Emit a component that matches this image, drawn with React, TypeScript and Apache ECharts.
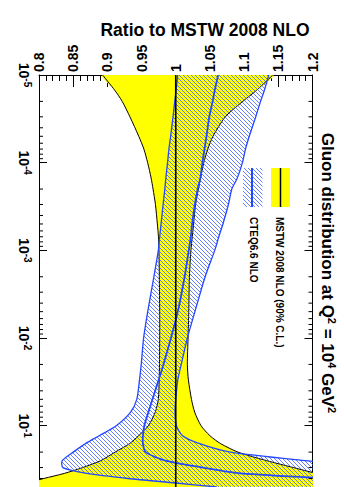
import React, { useEffect, useRef } from 'react';
import * as echarts from 'echarts';

// x values (momentum fraction) at which curves were read
const xGrid = [1e-5, 1.5e-5, 2e-5, 3e-5, 5e-5, 7e-5, 1e-4, 1.5e-4, 2e-4, 3e-4, 5e-4, 7e-4, 1e-3, 2e-3, 5e-3,
  1e-2, 2e-2, 3e-2, 5e-2, 7e-2, 0.1, 0.13, 0.16, 0.2, 0.25, 0.3, 0.35, 0.4, 0.45, 0.5];

// MSTW 2008 NLO 90% C.L. band (ratio to central)
const mstwLower = [0.893, 0.911, 0.9217, 0.933, 0.9459, 0.9534, 0.9589, 0.964, 0.9668, 0.9703, 0.9731, 0.9747, 0.9754, 0.976, 0.9765,
  0.9765, 0.9762, 0.9758, 0.9745, 0.970, 0.960, 0.9457, 0.9325, 0.9113, 0.8905, 0.864, 0.837, 0.807, 0.781, 0.757];
const mstwUpper = [1.142, 1.118, 1.098, 1.0725, 1.0545, 1.0469, 1.041, 1.0363, 1.0332, 1.029, 1.0261, 1.0242, 1.0222, 1.020, 1.019,
  1.018, 1.017, 1.0185, 1.023, 1.0277, 1.037, 1.050, 1.0656, 1.091, 1.1327, 1.1721, 1.205, 1.235, 1.26, 1.285];
const mstwCentral = [1, 1];
const mstwCentralX = [1e-5, 0.5];

// CTEQ6.6 NLO
const cteqCentral = [1.062, 1.057, 1.054, 1.049, 1.045, 1.042, 1.039, 1.036, 1.032, 1.028, 1.024, 1.022, 1.019, 1.013, 1.003,
  0.993, 0.982, 0.975, 0.966, 0.960, 0.954, 0.952, 0.952, 0.956, 0.985, 1.04, 1.095, 1.23, 1.4, 1.55];
const cteqUpper = [1.136, 1.1295, 1.124, 1.117, 1.1075, 1.102, 1.0975, 1.090, 1.082, 1.077, 1.069, 1.063, 1.057, 1.043, 1.028,
  1.017, 1.008, 1.003, 1.000, 0.999, 1.001, 1.01, 1.035, 1.08, 1.19, 1.30, 1.4, 1.5, 1.6, 1.7];
const cteqLower = [1.003, 1.0005, 0.9985, 0.996, 0.9925, 0.990, 0.988, 0.9855, 0.984, 0.9815, 0.9785, 0.9765, 0.9745, 0.968, 0.959,
  0.953, 0.9495, 0.947, 0.943, 0.934, 0.913, 0.888, 0.868, 0.850, 0.834, 0.835, 0.87, 0.93, 1.00, 1.06];

// log-axis minor tick positions
const decades = [1e-5, 1e-4, 1e-3, 1e-2, 1e-1];
const minorMultipliers = [2, 3, 4, 5, 6, 7, 8, 9];
const logMinorTicks: number[] = [];
decades.forEach((d) => minorMultipliers.forEach((m) => { if (d * m < 0.5) logMinorTicks.push(d * m); }));

const FONT = '"Liberation Sans", Arial, Helvetica, sans-serif';
const YELLOW = '#ffff00';
const BLUE_LINE = '#2448ff';
const BLUE_HATCH = '#3355ff';
const SMOOTH = 0.25;

const hatchTile = 'data:image/svg+xml;utf8,' + encodeURIComponent(
  `<svg xmlns="http://www.w3.org/2000/svg" width="4" height="4" viewBox="0 0 4 4">` +
  `<path d="M-1,-1 L5,5 M-1,3 L1,5 M3,-1 L5,1" stroke="${BLUE_HATCH}" stroke-width="0.75" fill="none"/></svg>`
);
const hatchFill = { image: hatchTile, repeat: 'repeat', imageWidth: 4, imageHeight: 4 };

function bandRenderer(lo: number[], hi: number[], opts: any) {
  return (params: any, api: any) => {
    if (params.dataIndex !== 0) return null;
    const up = xGrid.map((x, i) => api.coord([hi[i], x]));
    const dn = xGrid.map((x, i) => api.coord([lo[i], x]));
    const poly = up.concat(dn.slice().reverse());
    const children: any[] = [];
    children.push({
      type: 'polygon',
      shape: { points: poly, smooth: SMOOTH },
      style: { fill: opts.fill },
      silent: true,
    });
    if (opts.edge) {
      children.push({ type: 'polyline', shape: { points: up, smooth: SMOOTH }, style: { fill: null, stroke: opts.edge, lineWidth: opts.edgeWidth } });
      children.push({ type: 'polyline', shape: { points: dn, smooth: SMOOTH }, style: { fill: null, stroke: opts.edge, lineWidth: opts.edgeWidth } });
    }
    return { type: 'group', children };
  };
}

function lineRenderer(vals: number[], xs: number[], color: string, width: number) {
  return (params: any, api: any) => {
    if (params.dataIndex !== 0) return null;
    const pts = xs.map((x, i) => api.coord([vals[i], x]));
    return { type: 'polyline', shape: { points: pts, smooth: SMOOTH }, style: { fill: null, stroke: color, lineWidth: width } };
  };
}

export default function App() {
  const ref = useRef<HTMLDivElement>(null);
  useEffect(() => {
    const chart = echarts.init(ref.current!, null, { renderer: 'svg' });
    const option: any = {
      animation: false,
      grid: { left: 39, right: 31.5, top: 75, bottom: 0, containLabel: false, outerBoundsMode: 'none' },
      xAxis: {
        type: 'value', position: 'top', min: 0.8, max: 1.2, interval: 0.05,
        axisLine: { show: true, lineStyle: { color: '#000', width: 1 } },
        axisTick: { show: true, inside: true, length: 12, lineStyle: { color: '#000', width: 1 } },
        minorTick: { show: true, splitNumber: 5, length: 6, lineStyle: { color: '#000', width: 1 } },
        splitLine: { show: false },
        axisLabel: {
          rotate: -90, margin: 3, color: '#000', fontFamily: FONT, fontWeight: 'bold', fontSize: 14,
          showMinLabel: true, showMaxLabel: true, hideOverlap: false,
          formatter: (v: number) => String(+v.toFixed(2)),
        },
      },
      yAxis: [
        {
          type: 'log', logBase: 10, min: 1e-5, max: 0.5, inverse: true, position: 'left',
          axisLine: { show: true, lineStyle: { color: '#000', width: 1 } },
          axisTick: { show: true, inside: true, length: 8, lineStyle: { color: '#000', width: 1 } },
          splitLine: { show: false },
          axisLabel: {
            rotate: -90, margin: 7, showMaxLabel: false, hideOverlap: false,
            formatter: (v: number) => `{b|10}{s|${Math.round(Math.log10(v))}}`,
            rich: {
              b: { fontSize: 14, fontWeight: 'bold', fontFamily: FONT, color: '#000', lineHeight: 16 },
              s: { fontSize: 10, fontWeight: 'bold', fontFamily: FONT, color: '#000', verticalAlign: 'top', lineHeight: 16 },
            },
          },
        },
        {
          type: 'log', logBase: 10, min: 1e-5, max: 0.5, inverse: true, position: 'right',
          axisLine: { show: true, onZero: false, lineStyle: { color: '#000', width: 1 } },
          axisTick: { show: true, inside: true, length: 8, lineStyle: { color: '#000', width: 1 } },
          splitLine: { show: false },
          axisLabel: { show: false },
        },
      ],
      series: [
        {
          type: 'custom', name: 'MSTW band', clip: true, silent: true,
          data: xGrid.map((x, i) => [mstwLower[i], x]),
          renderItem: bandRenderer(mstwLower, mstwUpper, { fill: YELLOW, edge: '#000', edgeWidth: 1 }),
        },
        {
          type: 'custom', name: 'CTEQ band', clip: true, silent: true,
          data: xGrid.map((x, i) => [cteqLower[i], x]),
          renderItem: bandRenderer(cteqLower, cteqUpper, { fill: hatchFill, edge: BLUE_LINE, edgeWidth: 1.3 }),
        },
        {
          type: 'custom', name: 'CTEQ central', clip: true, silent: true,
          data: xGrid.map((x, i) => [cteqCentral[i], x]),
          renderItem: lineRenderer(cteqCentral, xGrid, BLUE_LINE, 1.8),
        },
        {
          type: 'custom', name: 'MSTW central', clip: true, silent: true,
          data: mstwCentralX.map((x, i) => [mstwCentral[i], x]),
          renderItem: lineRenderer(mstwCentral, mstwCentralX, '#000', 1.6),
        },
        {
          type: 'custom', name: 'minor ticks', clip: false, silent: true,
          data: logMinorTicks.map((v) => [0.8, v]),
          renderItem: (params: any, api: any) => {
            const v = api.value(1);
            const p = api.coord([0.8, v]);
            const q = api.coord([1.2, v]);
            return {
              type: 'group', children: [
                { type: 'line', shape: { x1: p[0], y1: p[1], x2: p[0] + 4, y2: p[1] }, style: { stroke: '#000', lineWidth: 1 } },
                { type: 'line', shape: { x1: q[0] - 4, y1: q[1], x2: q[0], y2: q[1] }, style: { stroke: '#000', lineWidth: 1 } },
              ],
            };
          },
        },
      ],
      graphic: [
        {
          type: 'text', x: 205, y: 30, silent: true,
          style: { text: 'Ratio to MSTW 2008 NLO', fill: '#000', font: `bold 17.5px ${FONT}`, textAlign: 'center', textVerticalAlign: 'middle' },
        },
        {
          type: 'text', x: 327, y: 273, rotation: -Math.PI / 2, silent: true,
          style: {
            text: '{t|Gluon distribution at Q}{s|2}{t| = 10}{s|4}{t| GeV}{s|2}',
            textAlign: 'center', textVerticalAlign: 'middle',
            rich: {
              t: { font: `bold 17px ${FONT}`, fill: '#000', lineHeight: 20 },
              s: { font: `bold 11px ${FONT}`, fill: '#000', verticalAlign: 'top', lineHeight: 20 },
            },
          },
        },
        // legend: MSTW
        { type: 'rect', shape: { x: 271, y: 168, width: 19, height: 39 }, style: { fill: YELLOW }, silent: true },
        { type: 'line', shape: { x1: 280.5, y1: 168, x2: 280.5, y2: 207 }, style: { stroke: '#000', lineWidth: 1.5 }, silent: true },
        {
          type: 'text', x: 279, y: 217, rotation: -Math.PI / 2, silent: true,
          style: { text: 'MSTW 2008 NLO (90% C.L.)', fill: '#000', font: `bold 10px ${FONT}`, textAlign: 'left', textVerticalAlign: 'middle' },
        },
        // legend: CTEQ
        { type: 'rect', shape: { x: 243, y: 168, width: 19.5, height: 39 }, style: { fill: hatchFill }, silent: true },
        { type: 'line', shape: { x1: 252, y1: 168, x2: 252, y2: 207 }, style: { stroke: BLUE_LINE, lineWidth: 2 }, silent: true },
        {
          type: 'text', x: 253, y: 217, rotation: -Math.PI / 2, silent: true,
          style: { text: 'CTEQ6.6 NLO', fill: '#000', font: `bold 10px ${FONT}`, textAlign: 'left', textVerticalAlign: 'middle' },
        },
      ],
    };
    chart.setOption(option);
    return () => chart.dispose();
  }, []);
  return <div ref={ref} style={{ position: 'absolute', left: 0, top: 0, width: 344, height: 487, background: '#fff' }} />;
}
